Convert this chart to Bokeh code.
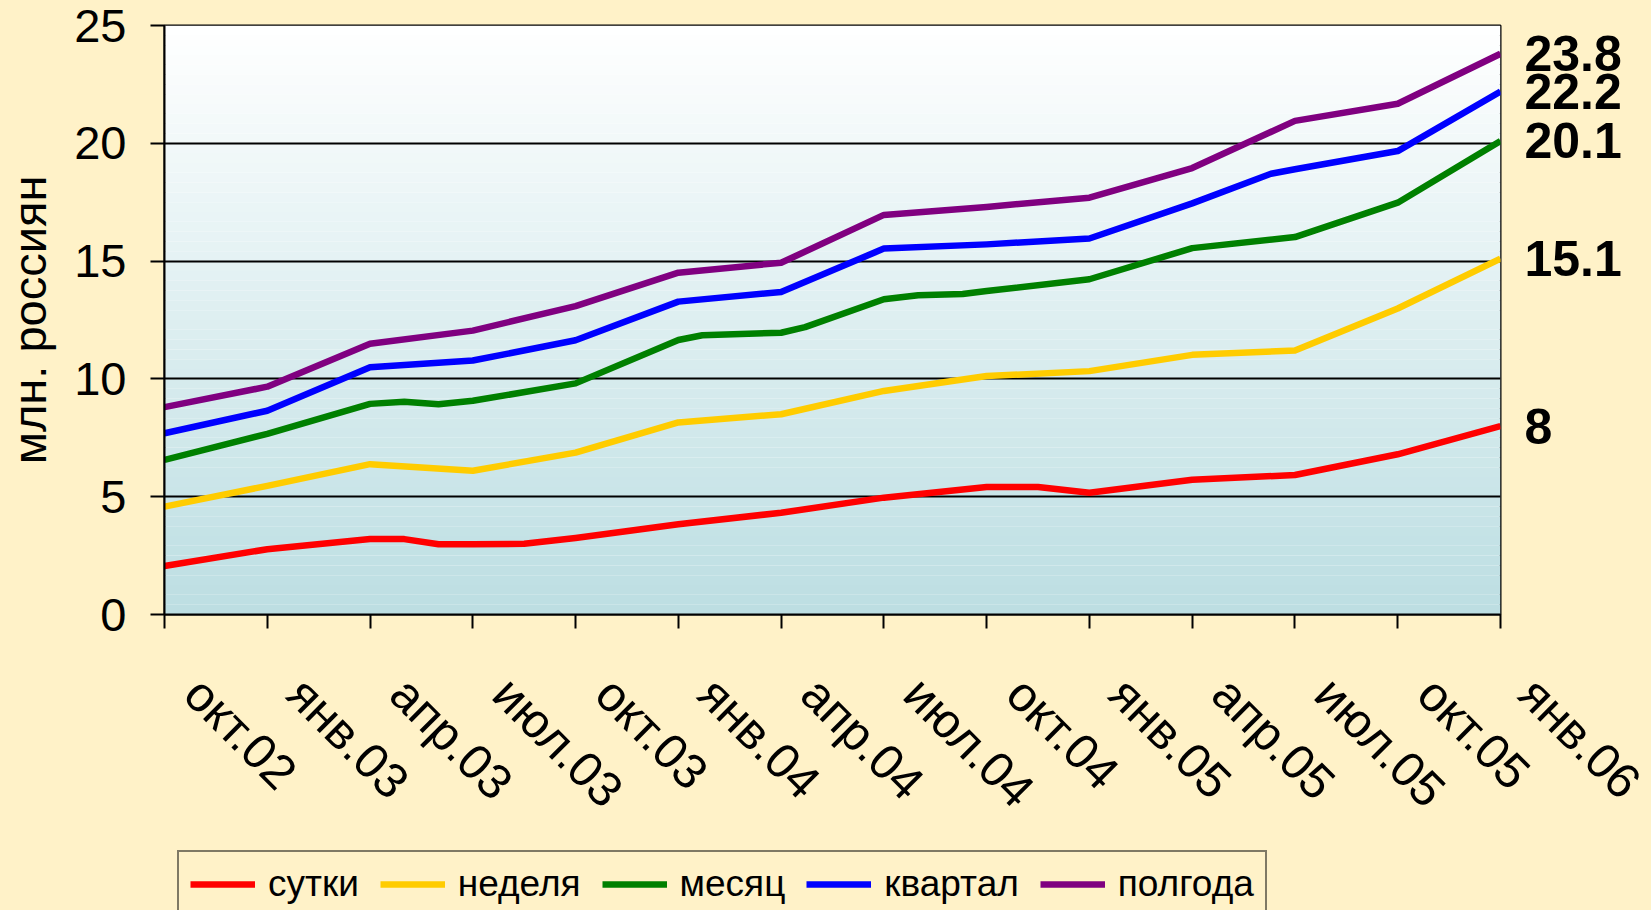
import math
from bokeh.plotting import figure
from bokeh.layouts import column
from bokeh.models import Range1d, FixedTicker, Legend, LegendItem, LinearAxis
from bokeh.embed import file_html
from bokeh.resources import INLINE

# ---------------- data ----------------
tick_months = [0, 3, 6, 9, 12, 15, 18, 21, 24, 27, 30, 33, 36, 39]
tick_labels = ["окт.02", "янв.03", "апр.03", "июл.03", "окт.03", "янв.04", "апр.04",
               "июл.04", "окт.04", "янв.05", "апр.05", "июл.05", "окт.05", "янв.06"]

series_names = ["сутки", "неделя", "месяц", "квартал", "полгода"]

sutki_m = [0, 3, 6, 7, 8, 9, 10.5, 12, 15, 18, 21, 24, 25.5, 27, 30, 33, 36, 39]
sutki_v = [2.06, 2.77, 3.2, 3.2, 2.98, 2.98, 3.0, 3.25, 3.83, 4.32, 4.96, 5.41, 5.41, 5.17, 5.72, 5.92, 6.8, 8.0]

nedelya_m = [0, 3, 6, 9, 12, 15, 18, 21, 24, 27, 30, 33, 36, 39]
nedelya_v = [4.58, 5.46, 6.38, 6.1, 6.87, 8.15, 8.5, 9.49, 10.12, 10.33, 11.02, 11.21, 12.99, 15.1]

mesyac_m = [0, 3, 6, 7, 8, 9, 12, 15, 15.7, 18, 18.7, 21, 22, 23.3, 24, 27, 30, 33, 36, 39]
mesyac_v = [6.56, 7.67, 8.94, 9.03, 8.92, 9.07, 9.81, 11.65, 11.85, 11.96, 12.2, 13.38, 13.55, 13.6, 13.73, 14.23, 15.55, 16.02, 17.48, 20.1]

kvartal_m = [0, 3, 6, 9, 12, 15, 18, 21, 24, 27, 30, 32.3, 33, 36, 39]
kvartal_v = [7.69, 8.65, 10.49, 10.78, 11.64, 13.28, 13.69, 15.53, 15.71, 15.96, 17.45, 18.71, 18.9, 19.67, 22.2]

polgoda_m = [0, 3, 6, 9, 12, 15, 18, 21, 24, 27, 30, 33, 36, 39]
polgoda_v = [8.8, 9.67, 11.49, 12.05, 13.09, 14.51, 14.93, 16.96, 17.3, 17.69, 18.95, 20.95, 21.68, 23.8]

y_ticks = [0, 5, 10, 15, 20, 25]
y_axis_title = "млн. россиян"

# ---------------- styling / layout ----------------
FONT = "Liberation Sans"
CREAM = "#FFF2C8"
colors = ["#FF0000", "#FFCC00", "#008000", "#0000FF", "#800080"]
LW = 6.5

W = 1651
BL, BR, BT = 163, 151, 25
FRAME_H = 589
H_MAIN = 848
H_BOT = 910 - H_MAIN
LEGEND_TOP = 853           # page y of the legend box top
LEGEND_H = 65
LABEL_PAD = "\u00a0" * 3   # pushes the rotated labels a little away from the ticks

x_start, x_end = tick_months[0], tick_months[-1]

p = figure(width=W, height=H_MAIN, output_backend="svg", toolbar_location=None,
           x_range=Range1d(x_start, x_end), y_range=Range1d(0, 25),
           min_border_left=BL, min_border_right=BR, min_border_top=BT,
           min_border_bottom=H_MAIN - BT - FRAME_H)
p.background_fill_color = "white"
p.border_fill_color = CREAM
p.outline_line_color = "black"
p.outline_line_width = 2

# gradient background of the plot area (white at top -> pale teal at bottom)
nb = 60
ymax = 25.0
bottoms, tops, fills = [], [], []
for k in range(nb):
    b = ymax * k / nb
    t = ymax * (k + 1) / nb
    f = 1 - (b + t) / 2 / ymax
    r = int(round(255 - f * (255 - 188)))
    g = int(round(255 - f * (255 - 222)))
    bl = int(round(255 - f * (255 - 226)))
    bottoms.append(b); tops.append(t); fills.append("#%02x%02x%02x" % (r, g, bl))
p.quad(left=x_start, right=x_end, bottom=bottoms, top=tops, fill_color=fills,
       line_color=None, level="image")

# grid
p.xgrid.grid_line_color = None
p.ygrid.grid_line_color = "black"
p.ygrid.grid_line_width = 2
p.ygrid.ticker = FixedTicker(ticks=y_ticks)

# y axis
p.yaxis.ticker = FixedTicker(ticks=y_ticks)
p.yaxis.axis_label = y_axis_title
p.yaxis.axis_label_text_font = FONT
p.yaxis.axis_label_text_font_style = "normal"
p.yaxis.axis_label_text_font_size = "47px"
p.yaxis.axis_label_standoff = 15
p.yaxis.axis_label_text_color = "black"
p.yaxis.major_label_text_font = FONT
p.yaxis.major_label_text_font_size = "47px"
p.yaxis.major_label_standoff = 24
p.yaxis.major_tick_out = 14
p.yaxis.major_tick_in = 0
p.yaxis.minor_tick_line_color = None
p.yaxis.axis_line_width = 2
p.yaxis.major_tick_line_width = 2
p.yaxis.axis_line_color = "black"
p.yaxis.major_label_text_color = "black"

# x axis with rotated month labels
p.xaxis.ticker = FixedTicker(ticks=tick_months)
p.xaxis.major_label_overrides = {m: LABEL_PAD + lab for m, lab in zip(tick_months, tick_labels)}
p.xaxis.major_label_orientation = -math.pi / 4
p.xaxis.major_label_text_font = FONT
p.xaxis.major_label_text_font_size = "49px"
p.xaxis.major_label_text_color = "black"
p.xaxis.major_label_standoff = 28
p.xaxis.major_tick_out = 14
p.xaxis.major_tick_in = 0
p.xaxis.minor_tick_line_color = None
p.xaxis.axis_line_width = 2
p.xaxis.major_tick_line_width = 2

# lines
xs = [sutki_m, nedelya_m, mesyac_m, kvartal_m, polgoda_m]
ys = [sutki_v, nedelya_v, mesyac_v, kvartal_v, polgoda_v]
for name, xv, yv, c in zip(series_names, xs, ys, colors):
    p.line(xv, yv, line_color=c, line_width=LW, line_join="round")

# end value labels: right axis with ticks at the last values
end_vals = [yv[-1] for yv in ys]
end_axis = LinearAxis(ticker=FixedTicker(ticks=end_vals),
                      major_label_overrides={v: ("%g" % v) for v in end_vals},
                      major_label_text_font=FONT, major_label_text_font_style="bold",
                      major_label_text_font_size="50px", major_label_text_color="black",
                      major_label_standoff=24, axis_line_color=None,
                      major_tick_line_color=None, minor_tick_line_color=None,
                      major_tick_out=0, major_tick_in=0)
p.add_layout(end_axis, "right")

# ---------------- bottom strip holding the legend ----------------
# the same series are drawn here but fall outside the visible y range;
# they only feed the legend swatches
p2 = figure(width=W, height=H_BOT, output_backend="svg", toolbar_location=None,
            x_range=Range1d(x_start, x_end), y_range=Range1d(100, 101),
            x_axis_location=None, y_axis_location=None,
            min_border_left=0, min_border_right=0, min_border_top=0, min_border_bottom=0)
p2.grid.visible = False
p2.outline_line_color = None
p2.background_fill_color = CREAM
p2.border_fill_color = CREAM

items = []
for name, xv, yv, c in zip(series_names, xs, ys, colors):
    r = p2.line(xv, yv, line_color=c, line_width=LW)
    items.append(LegendItem(label=name, renderers=[r]))

legend = Legend(items=items, orientation="horizontal",
                location=(13, H_BOT - (LEGEND_TOP - H_MAIN) - LEGEND_H),
                label_text_font=FONT, label_text_font_size="37px",
                label_text_color="black",
                glyph_width=65, glyph_height=20, label_standoff=13,
                spacing=21, padding=11, margin=0,
                border_line_color="black", border_line_width=2,
                background_fill_color=CREAM, background_fill_alpha=1.0)
p2.add_layout(legend, "center")

layout = column(p, p2, spacing=0)

page_template = """
{% block postamble %}
<style>html, body { background: #FFF2C8; }</style>
{% endblock %}
"""
open("out.html", "w").write(file_html(layout, INLINE, template=page_template))
